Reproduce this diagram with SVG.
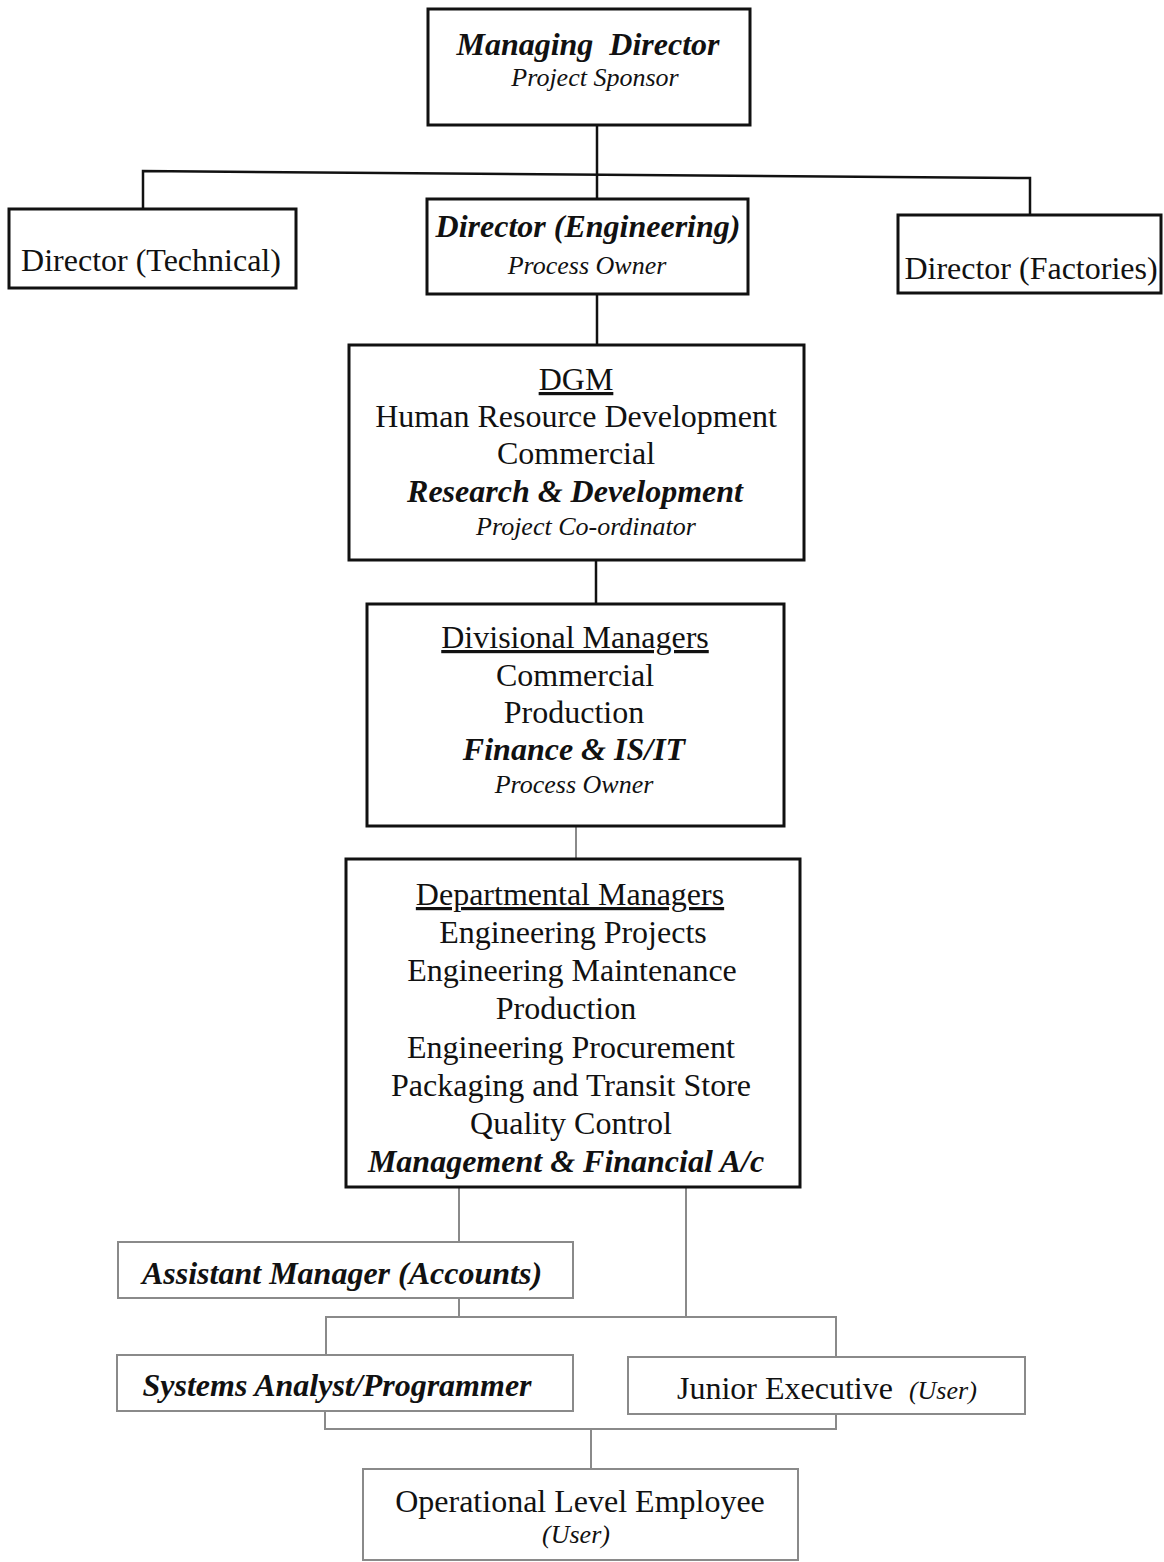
<svg xmlns="http://www.w3.org/2000/svg" width="1164" height="1562" viewBox="0 0 1164 1562">
  <style>
    .box { fill: #fff; stroke: #111; stroke-width: 3; }
    .gbox { fill: #fff; stroke: #8a8a8a; stroke-width: 2; }
    .t { font-family: "Liberation Serif", "Times New Roman", serif; fill: #111; text-anchor: middle; }
    .big { font-size: 32px; }
    .small { font-size: 26px; font-style: italic; }
    .bi { font-weight: bold; font-style: italic; }
    .u { text-decoration: underline; }
    .line { fill: none; stroke: #111; stroke-width: 2.5; }
    .gline { fill: none; stroke: #8a8a8a; stroke-width: 2; }
  </style>
  <rect width="1164" height="1562" fill="#fff"/>

  <g id="connectors">
    <path class="line" d="M597 125 V200"/>
    <path class="line" d="M143 209 V171 L1030 178 V215"/>
    <path class="line" d="M597 294 V345"/>
    <path class="line" d="M596 560 V604"/>
    <path class="gline" d="M576 826 V859"/>
    <path class="gline" d="M459 1187 V1242"/>
    <path class="gline" d="M686 1187 V1317"/>
    <path class="gline" d="M459 1298 V1317"/>
    <path class="gline" d="M326 1355 V1317 H836 V1357"/>
    <path class="gline" d="M325 1411 V1429 H836 V1414"/>
    <path class="gline" d="M591 1429 V1469"/>
  </g>

  <g id="managing-director">
    <rect class="box" x="428" y="9" width="322" height="116"/>
    <text class="t big bi" x="588" y="55" xml:space="preserve">Managing  Director</text>
    <text class="t small" x="595" y="86">Project Sponsor</text>
  </g>

  <g id="director-technical">
    <rect class="box" x="9" y="209" width="287" height="79"/>
    <text class="t big" x="151" y="271">Director (Technical)</text>
  </g>

  <g id="director-engineering">
    <rect class="box" x="427" y="199" width="321" height="95"/>
    <text class="t big bi" x="588" y="237">Director (Engineering)</text>
    <text class="t small" x="587" y="274">Process Owner</text>
  </g>

  <g id="director-factories">
    <rect class="box" x="898" y="215" width="263" height="78"/>
    <text class="t big" x="1031" y="279">Director (Factories)</text>
  </g>

  <g id="dgm">
    <rect class="box" x="349" y="345" width="455" height="215"/>
    <text class="t big u" x="576" y="390">DGM</text>
    <text class="t big" x="576" y="427">Human Resource Development</text>
    <text class="t big" x="576" y="464">Commercial</text>
    <text class="t big bi" x="575" y="502">Research &amp; Development</text>
    <text class="t small" x="586" y="535">Project Co-ordinator</text>
  </g>

  <g id="divisional-managers">
    <rect class="box" x="367" y="604" width="417" height="222"/>
    <text class="t big u" x="575" y="648">Divisional Managers</text>
    <text class="t big" x="575" y="686">Commercial</text>
    <text class="t big" x="574" y="723">Production</text>
    <text class="t big bi" x="574" y="760">Finance &amp; IS/IT</text>
    <text class="t small" x="574" y="793">Process Owner</text>
  </g>

  <g id="departmental-managers">
    <rect class="box" x="346" y="859" width="454" height="328"/>
    <text class="t big u" x="570" y="905">Departmental Managers</text>
    <text class="t big" x="573" y="943">Engineering Projects</text>
    <text class="t big" x="572" y="981">Engineering Maintenance</text>
    <text class="t big" x="566" y="1019">Production</text>
    <text class="t big" x="571" y="1058">Engineering Procurement</text>
    <text class="t big" x="571" y="1096">Packaging and Transit Store</text>
    <text class="t big" x="571" y="1134">Quality Control</text>
    <text class="t big bi" x="566" y="1172">Management &amp; Financial A/c</text>
  </g>

  <g id="assistant-manager">
    <rect class="gbox" x="118" y="1242" width="455" height="56"/>
    <text class="t big bi" x="342" y="1284">Assistant Manager (Accounts)</text>
  </g>

  <g id="systems-analyst">
    <rect class="gbox" x="117" y="1355" width="456" height="56"/>
    <text class="t big bi" x="337" y="1396">Systems Analyst/Programmer</text>
  </g>

  <g id="junior-executive">
    <rect class="gbox" x="628" y="1357" width="397" height="57"/>
    <text class="t" x="677" y="1399" style="text-anchor:start"><tspan class="big">Junior Executive</tspan><tspan class="small" dx="16">(User)</tspan></text>
  </g>

  <g id="operational-employee">
    <rect class="gbox" x="363" y="1469" width="435" height="91"/>
    <text class="t big" x="580" y="1512">Operational Level Employee</text>
    <text class="t small" x="576" y="1543">(User)</text>
  </g>
</svg>
